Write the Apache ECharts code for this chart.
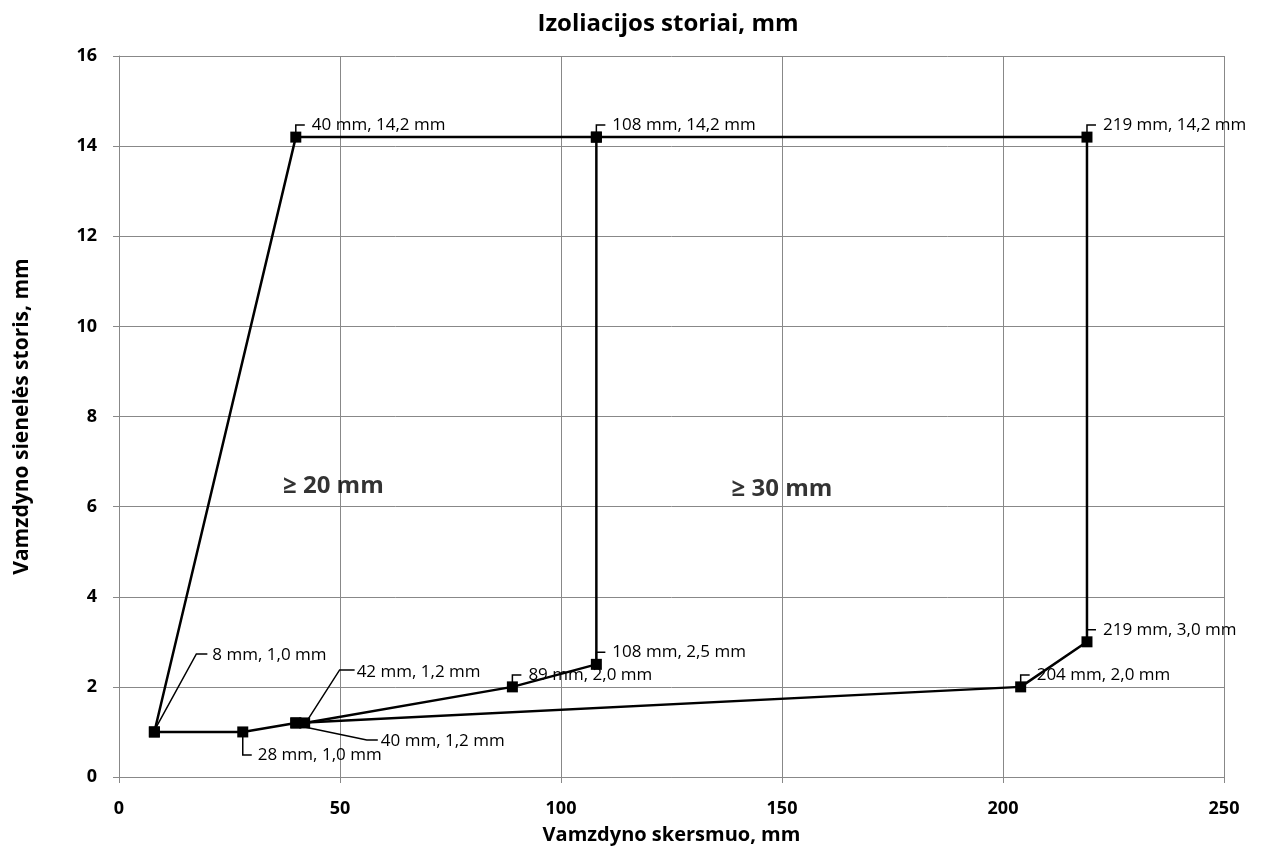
<!DOCTYPE html>
<html><head><meta charset="utf-8">
<script src="https://cdn.jsdelivr.net/npm/echarts@6/dist/echarts.min.js"></script>
<style>html,body{margin:0;padding:0;background:#fff}#c{width:1265px;height:858px}</style>
</head><body><div id="c"></div>
<script>
// ---- data ----
const titleText = 'Izoliacijos storiai, mm';
const xAxisName = 'Vamzdyno skersmuo, mm';
const yAxisName = 'Vamzdyno sienelės storis, mm';
// region "≥ 20 mm" boundary (diameter mm, wall thickness mm)
const region20X = [8, 40, 108, 108, 89, 42, 40, 28, 8];
const region20Y = [1.0, 14.2, 14.2, 2.5, 2.0, 1.2, 1.2, 1.0, 1.0];
// region "≥ 30 mm" boundary
const region30X = [40, 204, 219, 219, 108];
const region30Y = [1.2, 2.0, 3.0, 14.2, 14.2];
// labelled points
const labelX = [8, 28, 40, 42, 89, 108, 204, 219, 40, 108, 219];
const labelY = [1.0, 1.0, 1.2, 1.2, 2.0, 2.5, 2.0, 3.0, 14.2, 14.2, 14.2];
const labelText = ['8 mm, 1,0 mm', '28 mm, 1,0 mm', '40 mm, 1,2 mm', '42 mm, 1,2 mm',
  '89 mm, 2,0 mm', '108 mm, 2,5 mm', '204 mm, 2,0 mm', '219 mm, 3,0 mm',
  '40 mm, 14,2 mm', '108 mm, 14,2 mm', '219 mm, 14,2 mm'];
// region annotations
const regionLabelX = [48.5, 150];
const regionLabelY = [6.45, 6.38];
const regionLabelText = ['≥ 20 mm', '≥ 30 mm'];

// ---- leader line layout (pixel offsets from the point) ----
const upLeader = { pts: [[0, -5], [0, -12], [9, -12]], txt: [16, -12] };
const leaders = [
  { pts: [[2, -5], [42, -78], [53, -78]], txt: [58, -77] },
  { pts: [[0, 5], [0, 23], [9, 23]], txt: [15, 23] },
  { pts: [[4, 3], [71, 17], [82, 17]], txt: [85, 18] },
  { pts: [[3, -3], [35, -53], [50, -53]], txt: [52, -51] },
  upLeader, upLeader, upLeader, upLeader, upLeader, upLeader, upLeader
];

const FONT = '"Open Sans", Lato, sans-serif';
const chart = echarts.init(document.getElementById('c'));
const zip = (a, b) => a.map((v, i) => [v, b[i]]);

const lineStyleCommon = { color: '#000', width: 2.5 };
const option = {
  animation: false,
  backgroundColor: '#fff',
  title: {
    text: titleText, left: 663, top: 7, textAlign: 'center',
    textStyle: { fontFamily: FONT, fontWeight: 'bold', fontSize: 24, color: '#000' }
  },
  grid: { left: 119, right: 41, top: 56, bottom: 81 },
  xAxis: {
    type: 'value', min: 0, max: 250, interval: 50,
    name: xAxisName, nameLocation: 'middle', nameGap: 48,
    nameTextStyle: { fontFamily: FONT, fontWeight: 'bold', fontSize: 20, color: '#000' },
    axisLine: { show: true, lineStyle: { color: '#888', width: 1 } },
    axisTick: { show: true, length: 6, lineStyle: { color: '#888' } },
    axisLabel: { fontFamily: FONT, fontWeight: 'bold', fontSize: 18, color: '#000', margin: 23 },
    splitLine: { show: true, lineStyle: { color: '#888', width: 1 } }
  },
  yAxis: {
    type: 'value', min: 0, max: 16, interval: 2,
    name: yAxisName, nameLocation: 'middle', nameGap: 86, nameRotate: 90,
    nameTextStyle: { fontFamily: FONT, fontWeight: 'bold', fontSize: 21, color: '#000' },
    axisLine: { show: true, lineStyle: { color: '#888', width: 1 } },
    axisTick: { show: true, length: 6, lineStyle: { color: '#888' } },
    axisLabel: { fontFamily: FONT, fontWeight: 'bold', fontSize: 18, color: '#000', margin: 22 },
    splitLine: { show: true, lineStyle: { color: '#888', width: 1 } }
  },
  series: [
    {
      type: 'line', data: zip(region20X, region20Y),
      symbol: 'rect', symbolSize: 11, showSymbol: true,
      itemStyle: { color: '#000' }, lineStyle: lineStyleCommon, z: 3
    },
    {
      type: 'line', data: zip(region30X, region30Y),
      symbol: 'rect', symbolSize: 11, showSymbol: true,
      itemStyle: { color: '#000' }, lineStyle: lineStyleCommon, z: 3
    },
    {
      type: 'custom', z: 4,
      data: labelX.map((x, i) => [x, labelY[i], labelText[i]]),
      renderItem: function (params, api) {
        const p = api.coord([api.value(0), api.value(1)]);
        const L = leaders[params.dataIndex];
        const pts = L.pts.map(o => [p[0] + o[0], p[1] + o[1]]);
        return {
          type: 'group',
          children: [
            { type: 'polyline', shape: { points: pts }, style: { stroke: '#000', lineWidth: 1.5, fill: null } },
            { type: 'text', x: p[0] + L.txt[0], y: p[1] + L.txt[1],
              style: { text: labelText[params.dataIndex], fill: '#000', font: '17px ' + FONT,
                textAlign: 'left', textVerticalAlign: 'middle' } }
          ]
        };
      }
    },
    {
      type: 'scatter', symbolSize: 0, silent: true,
      data: regionLabelX.map((x, i) => ({ value: [x, regionLabelY[i]], name: regionLabelText[i] })),
      label: { show: true, position: 'inside', formatter: '{b}',
        fontFamily: FONT, fontWeight: 'bold', fontSize: 24, color: '#000' }
    }
  ]
};
chart.setOption(option);
</script></body></html>
